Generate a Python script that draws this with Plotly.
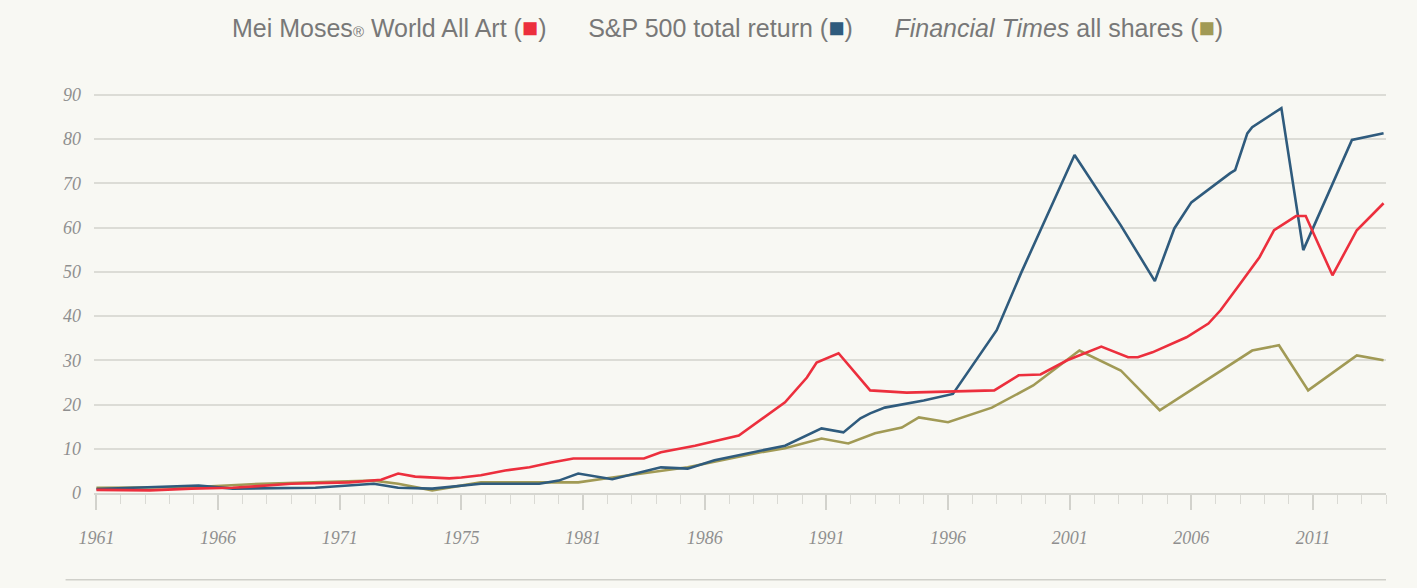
import plotly.graph_objects as go

# Mei Moses World All Art index (year, value)
art_years = [1961.0, 1963.2, 1964.9, 1966.6, 1967.5, 1969.0, 1971.4, 1972.7, 1973.4, 1974.1,
             1975.5, 1976.0, 1976.8, 1977.8, 1978.8, 1979.7, 1980.6, 1983.5, 1984.2, 1985.6,
             1987.4, 1989.3, 1990.2, 1990.6, 1991.5, 1992.8, 1994.3, 1997.9, 1998.9, 1999.8,
             2000.9, 2002.3, 2003.4, 2003.8, 2004.4, 2005.8, 2006.7, 2007.2, 2007.9, 2008.8,
             2009.4, 2010.3, 2010.7, 2011.8, 2012.8, 2013.9]
art_values = [0.7, 0.6, 1.0, 1.2, 1.5, 2.1, 2.4, 3.0, 4.4, 3.7,
              3.3, 3.5, 4.0, 5.1, 5.8, 6.9, 7.8, 7.8, 9.2, 10.7,
              13.0, 20.5, 26.1, 29.5, 31.6, 23.2, 22.7, 23.2, 26.6, 26.8,
              30.0, 33.1, 30.7, 30.7, 31.8, 35.2, 38.3, 41.3, 46.5, 53.3,
              59.4, 62.6, 62.6, 49.2, 59.4, 65.5]

# S&P 500 total return (year, value)
sp_years = [1961.0, 1965.2, 1966.6, 1970.0, 1972.4, 1973.4, 1974.8, 1976.8, 1979.2, 1980.0,
            1980.8, 1982.2, 1984.2, 1985.3, 1986.4, 1988.3, 1989.3, 1990.8, 1991.7, 1992.4,
            1992.8, 1993.4, 1995.0, 1996.2, 1998.0, 1999.0, 2001.2, 2003.1, 2004.5, 2005.3,
            2006.0, 2007.6, 2007.8, 2008.3, 2008.5, 2009.7, 2010.6, 2012.6, 2013.9]
sp_values = [0.9, 1.7, 1.0, 1.2, 2.1, 1.2, 1.0, 2.1, 2.1, 2.8,
             4.4, 3.1, 5.8, 5.5, 7.4, 9.6, 10.7, 14.6, 13.7, 16.9,
             18.0, 19.3, 20.9, 22.4, 36.8, 49.7, 76.4, 60.5, 47.9, 59.8,
             65.7, 72.3, 73.0, 81.3, 82.7, 87.0, 54.9, 79.8, 81.3]

# Financial Times all shares (year, value)
ft_years = [1961.0, 1964.9, 1967.8, 1972.4, 1973.4, 1974.8, 1976.8, 1980.8, 1982.2, 1985.3,
            1988.3, 1989.3, 1990.8, 1991.9, 1993.0, 1994.1, 1994.8, 1996.0, 1997.8, 1999.5,
            2001.4, 2002.8, 2003.1, 2004.7, 2008.5, 2009.6, 2010.8, 2012.8, 2013.9]
ft_values = [1.2, 1.3, 2.1, 2.8, 2.1, 0.6, 2.4, 2.4, 3.5, 5.8,
             9.2, 10.1, 12.3, 11.2, 13.5, 14.8, 17.1, 16.0, 19.3, 24.3,
             32.2, 28.4, 27.7, 18.7, 32.2, 33.4, 23.2, 31.1, 30.0]

x_tick_vals = [1961, 1966, 1971, 1976, 1981, 1986, 1991, 1996, 2001, 2006, 2011]
x_tick_text = ["1961", "1966", "1971", "1975", "1981", "1986", "1991", "1996", "2001", "2006", "2011"]
y_tick_vals = [0, 10, 20, 30, 40, 50, 60, 70, 80, 90]

RED = "#ec2f3d"
BLUE = "#2f5b7d"
GOLD = "#a19a55"
BG = "#f8f8f3"
GRID = "#dcdcd6"
TXT = "#8f8f8f"

fig = go.Figure()
fig.add_trace(go.Scatter(x=ft_years, y=ft_values, mode="lines",
                         line=dict(color=GOLD, width=2.6), name="Financial Times all shares"))
fig.add_trace(go.Scatter(x=sp_years, y=sp_values, mode="lines",
                         line=dict(color=BLUE, width=2.6), name="S&P 500 total return"))
fig.add_trace(go.Scatter(x=art_years, y=art_values, mode="lines",
                         line=dict(color=RED, width=2.6), name="Mei Moses World All Art"))

tick_font = dict(family="Liberation Serif", size=18, color=TXT, style="italic")

fig.update_layout(
    width=1417, height=588,
    paper_bgcolor=BG, plot_bgcolor=BG,
    margin=dict(l=94, r=31, t=86, b=95),
    showlegend=False,
    xaxis=dict(
        range=[1960.9, 2014.0],
        tickmode="array", tickvals=x_tick_vals, ticktext=x_tick_text,
        ticks="outside", ticklen=15, tickwidth=1.5, tickcolor="#d2d2cc",
        minor=dict(tickmode="linear", tick0=1961, dtick=1, ticks="outside",
                   ticklen=9, tickwidth=1.2, tickcolor="#dadad4", showgrid=False),
        showgrid=False, zeroline=False,
        showline=True, linecolor="#d6d6d0", linewidth=2,
        tickfont=tick_font, ticklabelstandoff=12,
    ),
    yaxis=dict(
        range=[0, 92],
        tickmode="array", tickvals=y_tick_vals,
        showgrid=True, gridcolor=GRID, gridwidth=2,
        zeroline=False, showline=False, ticks="",
        tickfont=tick_font, ticklabelstandoff=12,
    ),
)

sq = "<span style='color:%s;font-size:27px'>■</span>"
gap = "&nbsp;&nbsp;&nbsp;&nbsp;&nbsp;&nbsp;"
legend_text = (
    "Mei Moses<span style='font-size:15px'>®</span> World All Art (" + sq % RED + ")" + gap +
    "S&amp;P 500 total return (" + sq % BLUE + ")" + gap +
    "<i>Financial Times</i> all shares (" + sq % GOLD + ")"
)

fig.add_annotation(
    text=legend_text, xref="paper", yref="paper",
    x=0.49, y=1.0, yshift=58, xanchor="center", yanchor="middle",
    showarrow=False,
    font=dict(family="Liberation Sans", size=25, color="#787878"),
)

# separator rule below the axis labels
fig.add_shape(type="line", xref="paper", yref="paper",
              x0=-0.022, x1=1.0, y0=-0.213, y1=-0.213,
              line=dict(color="#d0d0ca", width=1.5))

fig.write_html("out.html")
